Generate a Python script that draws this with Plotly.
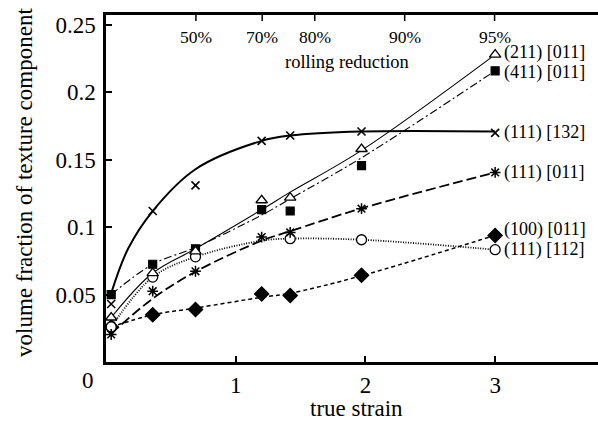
import math
import plotly.graph_objects as go

# ---------------- data ----------------
STRAIN = [0.04, 0.36, 0.69, 1.20, 1.42, 1.97, 3.00]
STRAIN_111_112 = [0.04, 0.36, 0.69, 1.42, 1.97, 3.00]

# measured points (markers)
V_211_011 = [0.033, 0.066, 0.082, 0.120, 0.122, 0.158, 0.228]
V_411_011 = [0.050, 0.0725, 0.084, 0.113, 0.112, 0.1456, 0.216]
V_111_132 = [0.043, 0.112, 0.131, 0.164, 0.168, 0.171, 0.170]
V_111_011 = [0.0204, 0.0525, 0.0673, 0.0927, 0.0961, 0.1137, 0.1406]
V_100_011 = [0.026, 0.035, 0.0389, 0.0505, 0.0493, 0.0643, 0.0939]
V_111_112 = [0.026, 0.063, 0.078, 0.0915, 0.0907, 0.0833]

# fitted curves drawn through the data
FIT_X_111_132 = [0.04, 0.17, 0.36, 0.69, 1.20, 1.42, 1.97, 3.00]
FIT_111_132 = [0.051, 0.084, 0.112, 0.143, 0.164, 0.168, 0.171, 0.171]
FIT_211_011 = [0.033, 0.066, 0.084, 0.113, 0.126, 0.157, 0.228]
FIT_411_011 = [0.050, 0.0725, 0.085, 0.109, 0.121, 0.1515, 0.216]
FIT_111_011 = [0.021, 0.047, 0.067, 0.090, 0.097, 0.114, 0.1406]
FIT_100_011 = [0.026, 0.035, 0.040, 0.048, 0.051, 0.064, 0.094]
FIT_111_112 = [0.026, 0.063, 0.078, 0.090, 0.0915, 0.0907, 0.0833]

LABELS = ["(211) [011]", "(411) [011]", "(111) [132]", "(111) [011]", "(100) [011]", "(111) [112]"]
LABEL_Y = [0.2295, 0.2147, 0.1702, 0.1406, 0.0980, 0.0836]

X_TICKS = [1, 2, 3]
Y_TICKS = [0.05, 0.1, 0.15, 0.2, 0.25]
Y_TICK_TEXT = ["0.05", "0.1", "0.15", "0.2", "0.25"]
ROLLING_REDUCTION = [50, 70, 80, 90, 95]

FONT = "Liberation Serif"
PLOT_W, PLOT_H = 492, 347

fig = go.Figure()


def curve(x, y, width, dash, smooth=1.0):
    fig.add_trace(go.Scatter(x=x, y=y, mode="lines",
                             line=dict(color="black", width=width, dash=dash,
                                       shape="spline", smoothing=smooth),
                             hoverinfo="skip", showlegend=False, cliponaxis=False))


def marks(x, y, symbol, size, fill, lw=1.2):
    fig.add_trace(go.Scatter(x=x, y=y, mode="markers",
                             marker=dict(symbol=symbol, size=size, color=fill,
                                         line=dict(color="black", width=lw)),
                             showlegend=False, cliponaxis=False))


# curves
curve(STRAIN, FIT_100_011, 1.5, "4px,3px")
curve(STRAIN, FIT_111_112, 1.8, "1px,1.5px")
curve(STRAIN, FIT_111_011, 1.8, "10px,4px")
curve(STRAIN, FIT_411_011, 1.1, "8px,3px,2px,3px")
curve(STRAIN, FIT_211_011, 1.1, "solid")
curve(FIT_X_111_132, FIT_111_132, 2.0, "solid", 1.0)

# markers
marks(STRAIN, V_100_011, "diamond", 11, "black")
marks(STRAIN_111_112, V_111_112, "circle", 10, "white", 1.3)
marks(STRAIN, V_111_011, "asterisk-open", 9, "black", 1.5)
marks(STRAIN, V_411_011, "square", 8, "black")
marks(STRAIN, V_211_011, "triangle-up", 10, "white", 1.3)
marks(STRAIN, V_111_132, "x-thin-open", 8, "black", 1.6)

# top scale: rolling reduction r -> true strain -ln(1-r)
top_vals = [-math.log(1 - r / 100) for r in ROLLING_REDUCTION]
top_text = [f"{r}%" for r in ROLLING_REDUCTION]

X_RANGE = [0, 3.793]
Y_RANGE = [0, 0.2574]

axis_common = dict(ticks="inside", ticklen=6, tickwidth=1.5, tickcolor="#000000",
                   showline=True, linecolor="#000000", linewidth=2.5, showgrid=False,
                   zeroline=False, automargin=False, layer="above traces",
                   tickfont=dict(size=23, family=FONT, color="#000000"))

fig.update_layout(
    template="none",
    width=598, height=421,
    margin=dict(l=106, r=0, t=15, b=59, autoexpand=False),
    paper_bgcolor="white", plot_bgcolor="white",
    font=dict(family=FONT, color="#000000", size=22),
    xaxis=dict(range=X_RANGE, tickvals=X_TICKS, mirror=True,
               ticklabelstandoff=1, **axis_common),
    yaxis=dict(range=Y_RANGE, tickvals=Y_TICKS, ticktext=Y_TICK_TEXT,
               ticklabelstandoff=3, **axis_common),
)

shapes = []
ann = []
for v, t in zip(top_vals, top_text):
    shapes.append(dict(type="line", xref="x", yref="paper", x0=v, x1=v,
                       y0=1, y1=1 - 6 / PLOT_H, line=dict(color="#000000", width=1.5)))
    ann.append(dict(x=v, y=1 - 22 / PLOT_H, xref="x", yref="paper", text=t,
                    showarrow=False, xanchor="center", yanchor="middle",
                    font=dict(size=17.5, family=FONT)))
for t, y in zip(LABELS, LABEL_Y):
    ann.append(dict(x=3.05, y=y, xref="x", yref="y", text=t, showarrow=False,
                    xanchor="left", yanchor="middle", font=dict(size=18, family=FONT)))
ann.append(dict(x=1.858, y=0.2228, xref="x", yref="y", text="rolling reduction",
                showarrow=False, xanchor="center", yanchor="middle",
                font=dict(size=18.5, family=FONT)))
ann.append(dict(x=-18 / PLOT_W, y=-0.0519, xref="paper", yref="paper", text="0",
                showarrow=False, xanchor="center", yanchor="middle",
                font=dict(size=23, family=FONT)))
ann.append(dict(x=-81 / PLOT_W, y=0.516, xref="paper", yref="paper",
                text="volume fraction of texture component", textangle=-90,
                showarrow=False, xanchor="center", yanchor="middle",
                font=dict(size=23, family=FONT)))
ann.append(dict(x=0.509, y=-0.1345, xref="paper", yref="paper", text="true strain",
                showarrow=False, xanchor="center", yanchor="middle",
                font=dict(size=23, family=FONT)))
fig.update_layout(annotations=ann, shapes=shapes)

fig.write_html("out.html", config={"displayModeBar": False},
               post_script="document.body.style.margin='0px';")
